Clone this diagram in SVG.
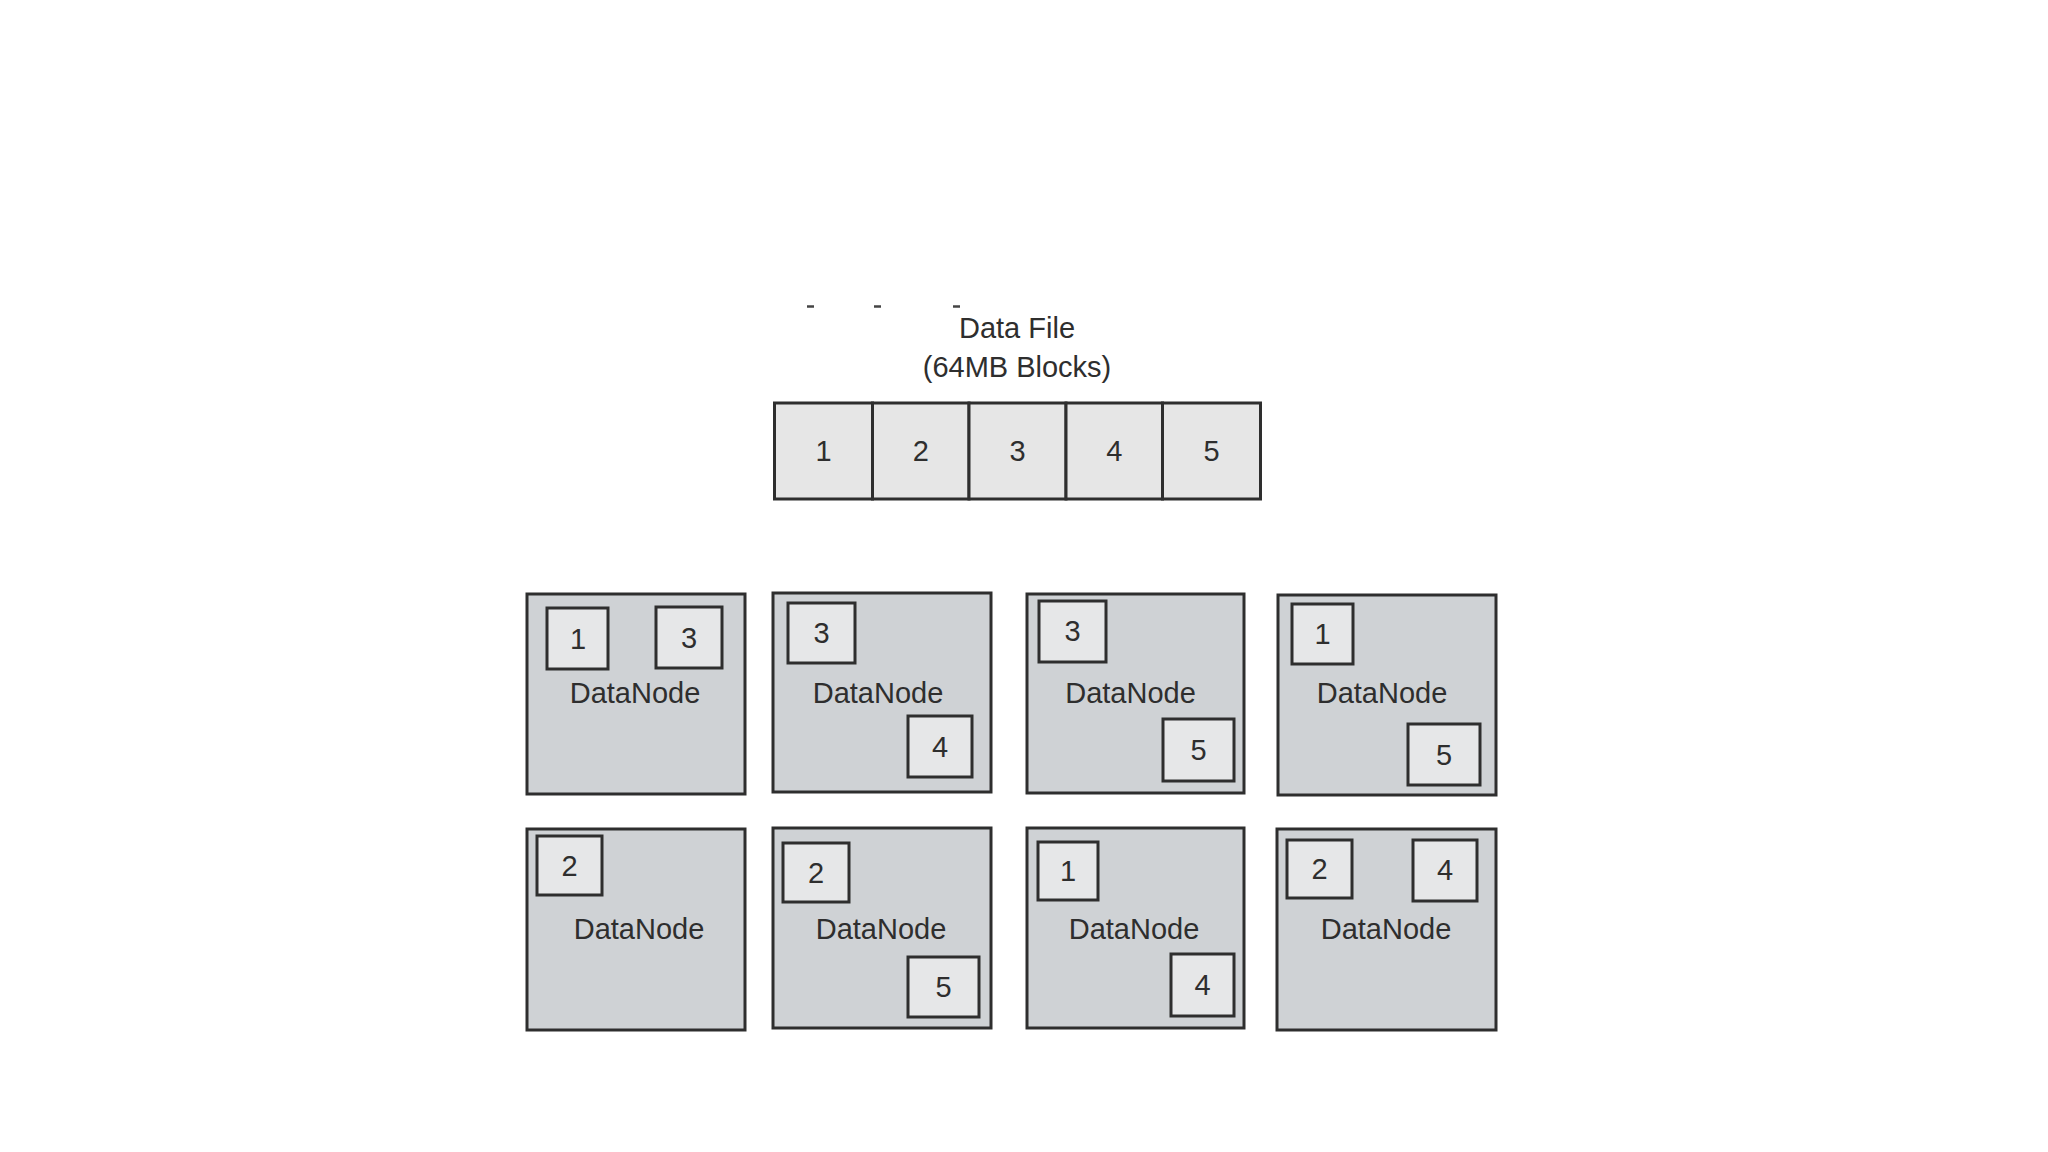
<svg xmlns="http://www.w3.org/2000/svg" width="2048" height="1152" viewBox="0 0 2048 1152">
<style>
text{font-family:"Liberation Sans",Arial,sans-serif;fill:#2e2e2e;text-anchor:middle}
.blk{fill:#e6e6e6;stroke:#2e2e2e;stroke-width:3}
.node{fill:#cfd2d5;stroke:#2e2e2e;stroke-width:3}
.box{fill:#e6e7e8;stroke:#2e2e2e;stroke-width:3}
.t{font-size:29px}
.d{font-size:29px}
.n{font-size:29px}
.dash{stroke:#444;stroke-width:2.5}
</style>
<rect width="2048" height="1152" fill="#ffffff"/>
<g id="cut-marks">
<line class="dash" x1="807" y1="306.5" x2="814" y2="306.5"/>
<line class="dash" x1="874" y1="306.5" x2="881" y2="306.5"/>
<line class="dash" x1="953" y1="306.5" x2="960" y2="306.5"/>
</g>
<g id="title">
<text class="t" x="1017" y="338">Data File</text>
<text class="t" x="1017" y="377">(64MB Blocks)</text>
</g>
<g id="data-file">
<rect class="blk" x="774.5" y="403" width="98" height="96"/>
<rect class="blk" x="872.5" y="403" width="96.5" height="96"/>
<rect class="blk" x="969" y="403" width="97" height="96"/>
<rect class="blk" x="1066" y="403" width="96.5" height="96"/>
<rect class="blk" x="1162.5" y="403" width="98" height="96"/>
<text class="d" x="823.5" y="461">1</text>
<text class="d" x="920.75" y="461">2</text>
<text class="d" x="1017.5" y="461">3</text>
<text class="d" x="1114.25" y="461">4</text>
<text class="d" x="1211.5" y="461">5</text>
</g>
<g id="datanode-1">
<rect class="node" x="527" y="594" width="218" height="200"/>
<rect class="box" x="547" y="608" width="61" height="61"/>
<text class="n" x="578" y="649">1</text>
<rect class="box" x="656" y="607" width="66" height="61"/>
<text class="n" x="689" y="648">3</text>
<text class="n" x="635" y="703">DataNode</text>
</g>
<g id="datanode-2">
<rect class="node" x="773" y="593" width="218" height="199"/>
<rect class="box" x="788" y="603" width="67" height="60"/>
<text class="n" x="821.5" y="643">3</text>
<rect class="box" x="908" y="716" width="64" height="61"/>
<text class="n" x="940" y="757">4</text>
<text class="n" x="878" y="703">DataNode</text>
</g>
<g id="datanode-3">
<rect class="node" x="1027" y="594" width="217" height="199"/>
<rect class="box" x="1039" y="601" width="67" height="61"/>
<text class="n" x="1072.5" y="641">3</text>
<rect class="box" x="1163" y="719" width="71" height="62"/>
<text class="n" x="1198.5" y="760">5</text>
<text class="n" x="1130.5" y="703">DataNode</text>
</g>
<g id="datanode-4">
<rect class="node" x="1278" y="595" width="218" height="200"/>
<rect class="box" x="1292" y="604" width="61" height="60"/>
<text class="n" x="1322.5" y="644">1</text>
<rect class="box" x="1408" y="724" width="72" height="61"/>
<text class="n" x="1444" y="765">5</text>
<text class="n" x="1382" y="703">DataNode</text>
</g>
<g id="datanode-5">
<rect class="node" x="527" y="829" width="218" height="201"/>
<rect class="box" x="537" y="836" width="65" height="59"/>
<text class="n" x="569.5" y="876">2</text>
<text class="n" x="639" y="939">DataNode</text>
</g>
<g id="datanode-6">
<rect class="node" x="773" y="828" width="218" height="200"/>
<rect class="box" x="783" y="843" width="66" height="59"/>
<text class="n" x="816" y="883">2</text>
<rect class="box" x="908" y="957" width="71" height="60"/>
<text class="n" x="943.5" y="997">5</text>
<text class="n" x="881" y="939">DataNode</text>
</g>
<g id="datanode-7">
<rect class="node" x="1027" y="828" width="217" height="200"/>
<rect class="box" x="1038" y="842" width="60" height="58"/>
<text class="n" x="1068" y="881">1</text>
<rect class="box" x="1171" y="954" width="63" height="62"/>
<text class="n" x="1202.5" y="995">4</text>
<text class="n" x="1134" y="939">DataNode</text>
</g>
<g id="datanode-8">
<rect class="node" x="1277" y="829" width="219" height="201"/>
<rect class="box" x="1287" y="840" width="65" height="58"/>
<text class="n" x="1319.5" y="879">2</text>
<rect class="box" x="1413" y="840" width="64" height="61"/>
<text class="n" x="1445" y="880">4</text>
<text class="n" x="1386" y="939">DataNode</text>
</g>
<g id="connectors"></g>
</svg>
